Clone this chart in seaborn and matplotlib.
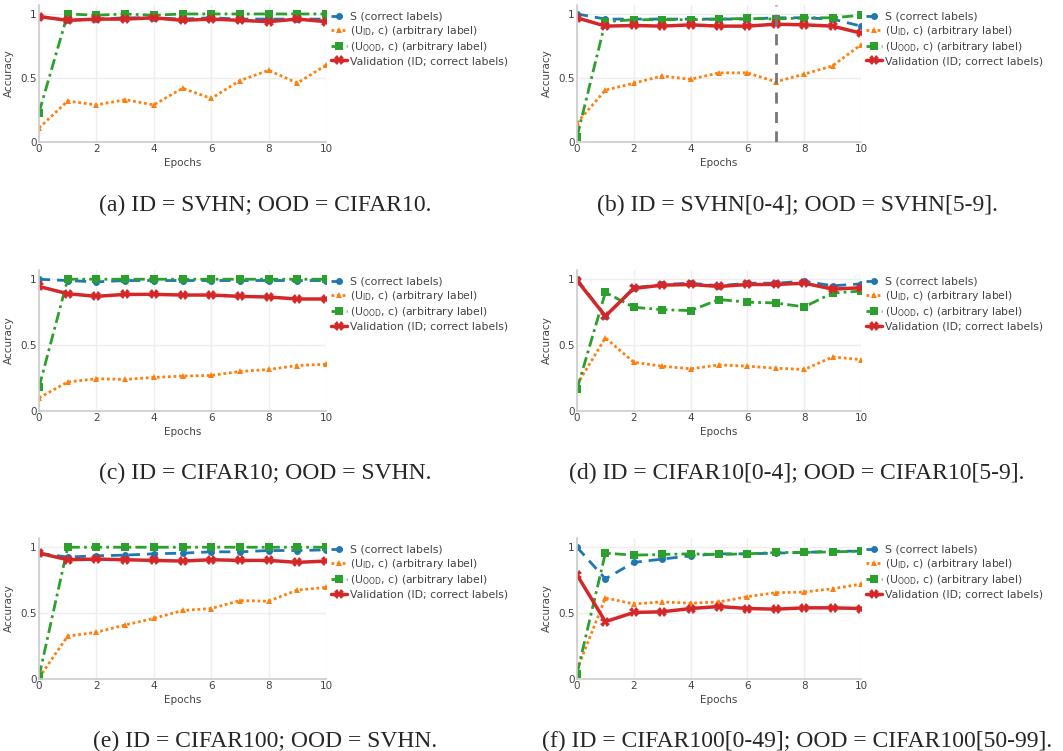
import matplotlib
matplotlib.use("Agg")
import matplotlib.pyplot as plt
import seaborn as sns

# epochs on the x axis
epochs = list(range(11))

# (a) ID = SVHN; OOD = CIFAR10
s_a = [0.98, 0.95, 0.96, 0.97, 0.97, 0.96, 0.97, 0.96, 0.96, 0.96, 0.96]
uid_a = [0.11, 0.32, 0.29, 0.33, 0.29, 0.42, 0.34, 0.48, 0.56, 0.46, 0.60]
uood_a = [0.23, 1.0, 0.99, 1.0, 0.99, 1.0, 1.0, 1.0, 1.0, 1.0, 1.0]
val_a = [0.98, 0.95, 0.96, 0.96, 0.97, 0.95, 0.96, 0.95, 0.94, 0.96, 0.94]

# (b) ID = SVHN[0-4]; OOD = SVHN[5-9]
s_b = [1.0, 0.96, 0.96, 0.96, 0.96, 0.96, 0.96, 0.97, 0.97, 0.96, 0.905]
uid_b = [0.15, 0.405, 0.46, 0.515, 0.49, 0.54, 0.54, 0.47, 0.53, 0.595, 0.76]
uood_b = [0.04, 0.94, 0.955, 0.955, 0.955, 0.96, 0.965, 0.96, 0.97, 0.97, 0.99]
val_b = [0.97, 0.905, 0.91, 0.905, 0.915, 0.905, 0.905, 0.92, 0.915, 0.905, 0.85]

# (c) ID = CIFAR10; OOD = SVHN
s_c = [1.0, 0.99, 0.98, 0.99, 0.99, 0.99, 0.99, 0.99, 0.99, 0.99, 0.99]
uid_c = [0.10, 0.22, 0.245, 0.24, 0.255, 0.265, 0.27, 0.30, 0.315, 0.345, 0.355]
uood_c = [0.18, 1.0, 1.0, 1.0, 1.0, 1.0, 1.0, 1.0, 1.0, 1.0, 1.0]
val_c = [0.945, 0.89, 0.87, 0.885, 0.885, 0.88, 0.88, 0.87, 0.865, 0.85, 0.85]

# (d) ID = CIFAR10[0-4]; OOD = CIFAR10[5-9]
s_d = [1.0, 0.72, 0.935, 0.96, 0.97, 0.95, 0.97, 0.97, 0.985, 0.95, 0.965]
uid_d = [0.20, 0.555, 0.37, 0.34, 0.32, 0.35, 0.34, 0.325, 0.315, 0.41, 0.39]
uood_d = [0.165, 0.90, 0.787, 0.769, 0.762, 0.846, 0.826, 0.82, 0.79, 0.895, 0.91]
val_d = [0.99, 0.72, 0.93, 0.955, 0.96, 0.945, 0.96, 0.96, 0.97, 0.925, 0.935]

# (e) ID = CIFAR100; OOD = SVHN
s_e = [0.955, 0.925, 0.935, 0.94, 0.95, 0.955, 0.965, 0.965, 0.975, 0.975, 0.98]
uid_e = [0.01, 0.325, 0.355, 0.41, 0.46, 0.52, 0.535, 0.595, 0.59, 0.675, 0.695]
uood_e = [0.02, 1.0, 1.0, 1.0, 1.0, 1.0, 1.0, 1.0, 1.0, 1.0, 1.0]
val_e = [0.955, 0.905, 0.91, 0.905, 0.90, 0.895, 0.905, 0.90, 0.90, 0.885, 0.895]

# (f) ID = CIFAR100[0-49]; OOD = CIFAR100[50-99]
s_f = [1.0, 0.76, 0.885, 0.91, 0.935, 0.95, 0.95, 0.955, 0.96, 0.97, 0.97]
uid_f = [0.07, 0.615, 0.57, 0.585, 0.575, 0.585, 0.625, 0.655, 0.66, 0.685, 0.72]
uood_f = [0.04, 0.955, 0.94, 0.945, 0.95, 0.945, 0.95, 0.96, 0.96, 0.965, 0.97]
val_f = [0.79, 0.435, 0.505, 0.51, 0.535, 0.55, 0.535, 0.53, 0.54, 0.54, 0.535]

captions = [
    "(a) ID = SVHN; OOD = CIFAR10.",
    "(b) ID = SVHN[0-4]; OOD = SVHN[5-9].",
    "(c) ID = CIFAR10; OOD = SVHN.",
    "(d) ID = CIFAR10[0-4]; OOD = CIFAR10[5-9].",
    "(e) ID = CIFAR100; OOD = SVHN.",
    "(f) ID = CIFAR100[0-49]; OOD = CIFAR100[50-99].",
]
panels = [
    (s_a, uid_a, uood_a, val_a),
    (s_b, uid_b, uood_b, val_b),
    (s_c, uid_c, uood_c, val_c),
    (s_d, uid_d, uood_d, val_d),
    (s_e, uid_e, uood_e, val_e),
    (s_f, uid_f, uood_f, val_f),
]
series_labels = [
    "S (correct labels)",
    "(U$_{\\mathrm{ID}}$, c) (arbitrary label)",
    "(U$_{\\mathrm{OOD}}$, c) (arbitrary label)",
    "Validation (ID; correct labels)",
]
# vertical marker in panel (b)
vline_b = 7

sns.set_style("white")
plt.rcParams["font.family"] = ["DejaVu Sans"]
plt.rcParams["mathtext.default"] = "regular"

styles = [
    dict(color="#1f77b4", linestyle=(0, (4, 2.5)), marker="o", markersize=5, linewidth=2),
    dict(color="#ff7f0e", linestyle=(0, (1, 1)), marker="^", markersize=4.5, linewidth=2),
    dict(color="#2ca02c", linestyle=(0, (4, 1.5, 1, 1.5)), marker="s", markersize=5.5, linewidth=2),
    dict(color="#d62728", linestyle="-", marker="X", markersize=6.5, linewidth=2.5),
]

W, H = 1063, 751
fig = plt.figure(figsize=(W / 100, H / 100), dpi=100)

lefts = [39, 577]
rights = [326, 861]
tops = [5, 270, 538]
bottoms = [142, 411, 679]
cap_y = [205, 473, 741]
cap_x = [265, 797]
txt = "#444444"

for i, (cap, data) in enumerate(zip(captions, panels)):
    r, c = divmod(i, 2)
    ax = fig.add_axes([lefts[c] / W, 1 - bottoms[r] / H,
                       (rights[c] - lefts[c]) / W, (bottoms[r] - tops[r]) / H])
    for vals, st, lab in zip(data, styles, series_labels):
        sns.lineplot(x=epochs, y=vals, ax=ax, label=lab, markeredgewidth=0, **st)
    if i == 1:
        ax.axvline(vline_b, color="#777777", linestyle=(0, (4, 3)), linewidth=2, zorder=5)
    ax.set_xlim(0, 10)
    ax.set_ylim(0, 1.07)
    ax.set_xticks([0, 2, 4, 6, 8, 10])
    ax.set_yticks([0, 0.5, 1])
    ax.set_yticklabels(["0", "0.5", "1"])
    ax.grid(True, color="#eeeeee", linewidth=1)
    ax.set_axisbelow(True)
    for side in ["top", "right"]:
        ax.spines[side].set_visible(False)
    for side in ["left", "bottom"]:
        ax.spines[side].set_color("#cccccc")
        ax.spines[side].set_linewidth(1.2)
    ax.tick_params(length=0, pad=1.5, labelsize=7.5, colors=txt)
    ax.set_xlabel("Epochs", fontsize=7.5, color=txt, labelpad=3)
    ax.set_ylabel("Accuracy", fontsize=7.5, color=txt, labelpad=5)
    ax.legend(loc="upper left", bbox_to_anchor=(1.0, 0.99), frameon=False,
              fontsize=7.8, handlelength=1.45, handletextpad=0.25,
              labelspacing=0.2, borderaxespad=0.1, labelcolor=txt)
    fig.text(cap_x[c] / W, 1 - cap_y[r] / H, cap, ha="center", va="center",
             fontsize=17, family="Liberation Serif")

fig.savefig("out.png", dpi=100)
